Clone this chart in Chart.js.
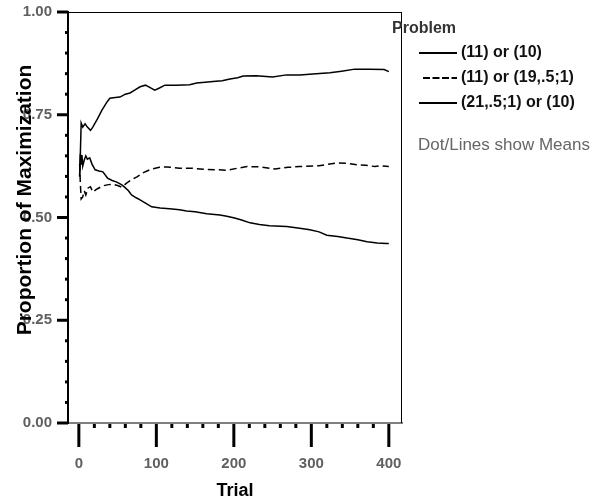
<!DOCTYPE html>
<html>
<head>
<meta charset="utf-8">
<script src="https://cdn.jsdelivr.net/npm/chart.js@4.4.1/dist/chart.umd.min.js"></script>
<style>
  html, body { margin: 0; padding: 0; background: #fff; }
</style>
</head>
<body>
<canvas id="chart" width="603" height="502"></canvas>
<script>
// mean proportion of maximization per trial
const trials1 = [1, 2, 3, 5, 8, 11, 15, 18, 24, 30, 36, 40, 47, 53, 60, 66, 72, 79, 86, 92, 98, 104, 111, 125, 143, 152, 163, 173, 185, 195, 205, 212, 229, 250, 268, 285, 302, 324, 339, 356, 375, 394, 400];
const means1 = [0.60, 0.66, 0.73, 0.72, 0.728, 0.72, 0.712, 0.72, 0.74, 0.762, 0.78, 0.79, 0.792, 0.793, 0.80, 0.803, 0.81, 0.818, 0.822, 0.816, 0.81, 0.815, 0.822, 0.822, 0.823, 0.827, 0.829, 0.831, 0.833, 0.837, 0.84, 0.844, 0.845, 0.842, 0.847, 0.847, 0.849, 0.852, 0.856, 0.861, 0.861, 0.860, 0.855];

const trials2 = [1, 2, 3, 5, 7, 9, 12, 15, 18, 24, 31, 38, 44, 50, 55, 62, 68, 75, 84, 94, 104, 113, 130, 145, 163, 180, 191, 205, 217, 235, 253, 270, 285, 310, 333, 345, 359, 370, 382, 390, 400];
const means2 = [0.63, 0.58, 0.545, 0.55, 0.565, 0.555, 0.572, 0.575, 0.562, 0.57, 0.577, 0.58, 0.581, 0.578, 0.574, 0.584, 0.592, 0.599, 0.61, 0.618, 0.622, 0.623, 0.62, 0.62, 0.617, 0.616, 0.615, 0.62, 0.624, 0.623, 0.618, 0.622, 0.624, 0.626, 0.633, 0.632, 0.628, 0.627, 0.624, 0.626, 0.624];

const trials3 = [1, 2, 3, 4, 5, 7, 9, 11, 14, 17, 21, 26, 31, 37, 43, 49, 55, 59, 64, 68, 74, 79, 86, 94, 105, 117, 130, 139, 150, 165, 182, 191, 201, 210, 221, 233, 246, 268, 285, 298, 310, 320, 334, 346, 360, 372, 385, 397, 400];
const means3 = [0.60, 0.655, 0.63, 0.652, 0.625, 0.64, 0.65, 0.642, 0.645, 0.63, 0.616, 0.613, 0.611, 0.596, 0.59, 0.586, 0.58, 0.574, 0.565, 0.555, 0.548, 0.543, 0.535, 0.526, 0.523, 0.521, 0.519, 0.516, 0.514, 0.509, 0.506, 0.503, 0.499, 0.494, 0.487, 0.483, 0.48, 0.478, 0.474, 0.47, 0.465, 0.457, 0.454, 0.45, 0.446, 0.441, 0.438, 0.437, 0.437];

const problemNames = ['(11) or (10)', '(11) or (19,.5;1)', '(21,.5;1) or (10)'];
const xTickValues = [0, 100, 200, 300, 400];
const yTickValues = [0, 0.25, 0.5, 0.75, 1];

const sans = "'Liberation Sans', Arial, sans-serif";

function toPoints(xs, ys) {
    return xs.map((t, i) => ({ x: t, y: ys[i] }));
}

// minor + major tick marks, top/right frame, y title
const axisMarks = {
    id: 'axisMarks',
    afterDraw(chart) {
        const { ctx, chartArea: a, scales: { x, y } } = chart;
        ctx.save();
        ctx.strokeStyle = '#000';
        ctx.lineWidth = 1;
        ctx.beginPath();
        ctx.moveTo(a.left, a.top + 0.5);
        ctx.lineTo(a.right, a.top + 0.5);
        ctx.moveTo(a.right - 0.5, a.top);
        ctx.lineTo(a.right - 0.5, a.bottom);
        ctx.stroke();

        ctx.lineWidth = 3;
        for (let v = 0; v <= 100; v += 5) {
            const py = y.getPixelForValue(v / 100);
            const major = v % 25 === 0;
            ctx.beginPath();
            ctx.moveTo(a.left - (major ? 11 : 3), py);
            ctx.lineTo(a.left, py);
            ctx.stroke();
        }
        for (let t = 0; t <= 400; t += 20) {
            const px = x.getPixelForValue(t);
            const major = t % 100 === 0;
            ctx.beginPath();
            ctx.moveTo(px, a.bottom + 1);
            ctx.lineTo(px, a.bottom + (major ? 24 : 5));
            ctx.stroke();
        }

        ctx.fillStyle = '#000';
        ctx.font = 'bold 21px ' + sans;
        ctx.textAlign = 'center';
        ctx.textBaseline = 'middle';
        ctx.translate(25, 200);
        ctx.rotate(-Math.PI / 2);
        ctx.fillText('Proportion of Maximization', 0, 0);
        ctx.restore();
    }
};

const sideLegend = {
    id: 'sideLegend',
    afterDraw(chart) {
        const ctx = chart.ctx;
        ctx.save();
        ctx.textBaseline = 'middle';
        ctx.textAlign = 'left';
        ctx.fillStyle = '#333';
        ctx.font = 'bold 16px ' + sans;
        ctx.fillText('Problem', 392, 29);

        chart.data.datasets.forEach((ds, i) => {
            const yy = 53 + i * 25;
            const dashed = ds.borderDash && ds.borderDash.length;
            ctx.strokeStyle = '#000';
            ctx.lineWidth = 2;
            ctx.setLineDash(dashed ? [7, 2.5] : []);
            ctx.beginPath();
            ctx.moveTo(dashed ? 423 : 419, yy);
            ctx.lineTo(457, yy);
            ctx.stroke();
            ctx.setLineDash([]);
            ctx.fillStyle = '#111';
            ctx.fillText(ds.label, 461, yy);
        });

        ctx.fillStyle = '#666';
        ctx.font = '17px ' + sans;
        ctx.fillText('Dot/Lines show Means', 418, 145);
        ctx.restore();
    }
};

// tick lines are drawn by the plugin; the scale's own tick length only
// spaces the labels away from the axis (ticks.padding would eat the top margin)
const hiddenGrid = len => ({
    display: true,
    drawOnChartArea: false,
    drawTicks: true,
    tickLength: len,
    color: 'rgba(0,0,0,0)'
});

const ctx = document.getElementById('chart').getContext('2d');
new Chart(ctx, {
    type: 'line',
    data: {
        datasets: [
            { label: problemNames[0], data: toPoints(trials1, means1), borderColor: '#000', borderWidth: 1.5 },
            { label: problemNames[1], data: toPoints(trials2, means2), borderColor: '#000', borderWidth: 1.5, borderDash: [7, 4] },
            { label: problemNames[2], data: toPoints(trials3, means3), borderColor: '#000', borderWidth: 1.5 }
        ]
    },
    options: {
        responsive: false,
        animation: false,
        layout: { padding: { top: 12, right: 201, left: 0, bottom: 0 } },
        elements: { point: { radius: 0 }, line: { tension: 0 } },
        plugins: { legend: { display: false }, tooltip: { enabled: false } },
        scales: {
            x: {
                type: 'linear',
                min: -14,
                max: 417,
                afterBuildTicks: s => { s.ticks = xTickValues.map(v => ({ value: v })); },
                afterFit: s => { s.height = 79; },
                grid: hiddenGrid(32),
                border: { display: true, color: '#808080', width: 2 },
                ticks: {
                    padding: 0,
                    color: '#606060',
                    font: { family: sans, size: 15, weight: 'bold' }
                },
                title: {
                    display: true,
                    text: 'Trial',
                    color: '#000',
                    padding: { top: 0, bottom: 0 },
                    font: { family: sans, size: 18, weight: 'bold' }
                }
            },
            y: {
                min: 0,
                max: 1,
                afterBuildTicks: s => { s.ticks = yTickValues.map(v => ({ value: v })); },
                afterFit: s => { s.width = 68; },
                grid: hiddenGrid(16),
                border: { display: true, color: '#000', width: 2 },
                ticks: {
                    padding: 0,
                    color: '#606060',
                    font: { family: sans, size: 15, weight: 'bold' },
                    callback: v => Number(v).toFixed(2)
                }
            }
        }
    },
    plugins: [axisMarks, sideLegend]
});
</script>
</body>
</html>
